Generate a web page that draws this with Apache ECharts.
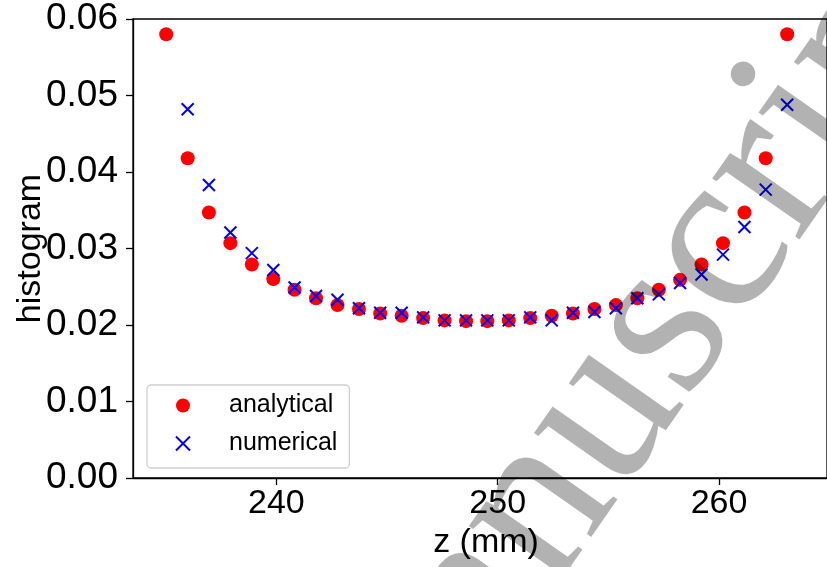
<!DOCTYPE html>
<html>
<head>
<meta charset="utf-8">
<script src="https://cdn.jsdelivr.net/npm/echarts@6/dist/echarts.min.js"></script>
<style>html,body{margin:0;padding:0;background:#fff;}#c{width:827px;height:567px;}</style>
</head>
<body>
<div id="c"></div>
<script>
// z positions (mm) of the bins
const zAnalytical = [235.02, 235.99, 236.95, 237.92, 238.89, 239.86, 240.82, 241.79, 242.76, 243.73,
  244.69, 245.66, 246.63, 247.60, 248.57, 249.53, 250.50, 251.47, 252.44, 253.40,
  254.37, 255.34, 256.31, 257.28, 258.24, 259.21, 260.18, 261.15, 262.11, 263.08];
const analytical = [0.0580, 0.0418, 0.0347, 0.0307, 0.0279, 0.0260, 0.0246, 0.0235, 0.0226, 0.0221,
  0.0215, 0.0212, 0.0209, 0.0206, 0.0205, 0.0205, 0.0206, 0.0209, 0.0212, 0.0215,
  0.0221, 0.0226, 0.0235, 0.0246, 0.0259, 0.0279, 0.0307, 0.0347, 0.0418, 0.0580];
const zNumerical = [235.99, 236.95, 237.92, 238.89, 239.86, 240.82, 241.79, 242.76, 243.73,
  244.69, 245.66, 246.63, 247.60, 248.57, 249.53, 250.50, 251.47, 252.44, 253.40,
  254.37, 255.34, 256.31, 257.28, 258.24, 259.21, 260.18, 261.15, 262.11, 263.08];
const numerical = [0.0482, 0.0383, 0.0321, 0.0294, 0.0272, 0.0249, 0.0238, 0.0233, 0.0222,
  0.0216, 0.0216, 0.0210, 0.0206, 0.0206, 0.0206, 0.0206, 0.0210, 0.0206, 0.0216,
  0.0217, 0.0222, 0.0235, 0.0240, 0.0255, 0.0266, 0.0292, 0.0328, 0.0377, 0.0488];
const xTicks = [240, 250, 260];
const yTicks = [0, 0.01, 0.02, 0.03, 0.04, 0.05, 0.06];
const seriesNames = ['analytical', 'numerical'];
const xName = 'z (mm)';
const yName = 'histogram';
const watermark = 'Accepted Manuscript';

const FONT = '"Liberation Sans", Arial, Helvetica, sans-serif';
const X_PATH = 'path://M0,0L10,10M10,0L0,10';

const chart = echarts.init(document.getElementById('c'), null, {renderer: 'canvas'});
chart.setOption({
  animation: false,
  backgroundColor: '#fff',
  grid: {left: 133, right: 0, top: 19, bottom: 89, outerBoundsMode: 'none', containLabel: false,
    show: true, borderColor: '#000', borderWidth: 1.3, backgroundColor: 'transparent'},
  xAxis: {
    type: 'value', min: 233.52, max: 264.88,
    name: xName, nameLocation: 'middle', nameGap: 47,
    nameTextStyle: {fontFamily: FONT, fontSize: 34, color: '#000', padding: [0, 0, 0, 12]},
    axisLine: {show: true, onZero: false, lineStyle: {color: '#000', width: 1.3}},
    axisTick: {show: true, length: 7, customValues: xTicks, lineStyle: {color: '#000', width: 1.3}},
    axisLabel: {customValues: xTicks, fontFamily: FONT, fontSize: 34, color: '#000', margin: 9},
    splitLine: {show: false}
  },
  yAxis: {
    type: 'value', min: 0, max: 0.06, interval: 0.01,
    name: yName, nameLocation: 'middle', nameGap: 85, nameRotate: 90, nameMoveOverlap: false,
    nameTextStyle: {fontFamily: FONT, fontSize: 34, color: '#000'},
    axisLine: {show: true, lineStyle: {color: '#000', width: 1.3}},
    axisTick: {show: true, length: 7, customValues: yTicks, lineStyle: {color: '#000', width: 1.3}},
    axisLabel: {customValues: yTicks, fontFamily: FONT, fontSize: 37, color: '#000', margin: 15,
      formatter: v => v.toFixed(2)},
    splitLine: {show: false}
  },
  legend: {
    left: 147, top: 385, orient: 'vertical',
    backgroundColor: '#fff', borderColor: '#d0d0d0', borderWidth: 1.3, borderRadius: 4,
    padding: [8, 12, 12, 28], itemGap: 13, itemWidth: 14, itemHeight: 14,
    textStyle: {fontFamily: FONT, fontSize: 25, color: '#000', lineHeight: 24, padding: [0, 0, 0, 34]},
    data: [
      {name: seriesNames[0], icon: 'circle'},
      {name: seriesNames[1], icon: X_PATH, itemStyle: {color: 'transparent', borderColor: '#0000ff', borderWidth: 2}}
    ]
  },
  series: [
    {
      name: seriesNames[0], type: 'scatter', symbol: 'circle', symbolSize: 14,
      itemStyle: {color: '#ff0000', opacity: 1},
      data: zAnalytical.map((z, i) => [z, analytical[i]]), z: 2
    },
    {
      name: seriesNames[1], type: 'scatter', symbol: X_PATH, symbolSize: 12,
      itemStyle: {color: 'transparent', borderColor: '#0000ff', borderWidth: 2, opacity: 1},
      data: zNumerical.map((z, i) => [z, numerical[i]]), z: 3
    }
  ],
  graphic: [{
    type: 'text', x: -210, y: 1575, rotation: 55 * Math.PI / 180, z: 100, silent: true,
    style: {text: watermark, font: '232px "Liberation Serif", "Times New Roman", serif',
      fill: 'rgba(0,0,0,0.3)', textAlign: 'left', textVerticalAlign: 'middle'}
  }]
});
</script>
</body>
</html>
